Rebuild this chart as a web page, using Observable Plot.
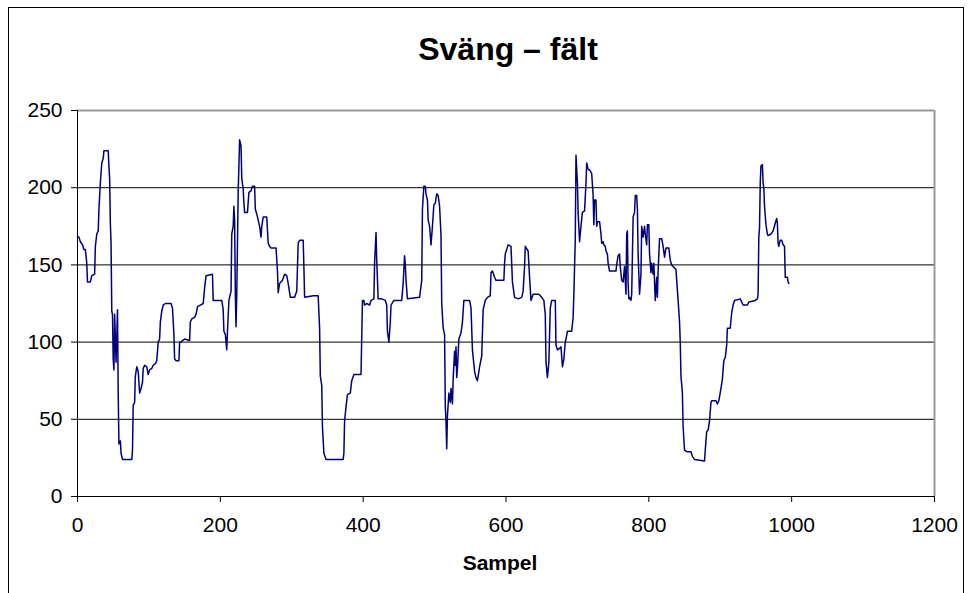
<!DOCTYPE html>
<html>
<head>
<meta charset="utf-8">
<script src="https://cdn.jsdelivr.net/npm/d3@7"></script>
<script src="https://cdn.jsdelivr.net/npm/@observablehq/plot@0.6"></script>
<style>
  body { margin: 0; background: #fff; overflow: hidden; font-family: "Liberation Sans", Arial, sans-serif; }
  #wrap { position: relative; width: 968px; height: 593px; overflow: hidden; background: #fff; }
  #frame { position: absolute; left: 8px; top: 7px; width: 956px; height: 640px; border: 1px solid #000; box-sizing: border-box; }
  #title { position: absolute; left: 508px; top: 33px; transform: translateX(-50%); white-space: nowrap;
           font-weight: bold; font-size: 32px; line-height: 32px; color: #000; }
  #plot { position: absolute; left: 0; top: 80px; }
  #xlabel { position: absolute; left: 500px; top: 552px; transform: translateX(-50%); white-space: nowrap;
            font-weight: bold; font-size: 21px; line-height: 21px; color: #000; }
</style>
</head>
<body>
<div id="wrap">
  <div id="frame"></div>
  <div id="title">Sväng – fält</div>
  <div id="plot"></div>
  <div id="xlabel">Sampel</div>
</div>
<script>
// Sample index of each traced breakpoint
const samples = [
  0,2,4,7,9,11,13,14,18,20,24,25,27,29,30,32,34,36,37,43,44,45,46,47,48,49,50,51,52,54,56,57,58,60,61,63,76,77,78,80,81,83,85,87,89,91,92,94,97,99,101,104,106,109,111,113,115,116,118,120,123,131,133,135,136,138,142,143,145,147,150,157,158,160,164,166,168,
  172,176,178,180,189,190,202,204,205,207,209,210,212,215,216,218,219,220,221,222,223,225,227,229,230,232,233,234,238,240,243,245,248,249,251,253,255,257,258,260,265,267,269,271,278,280,281,283,287,290,293,295,298,304,307,309,311,316,317,318,330,337,339,340,342,343,345,348,
  372,373,374,376,378,382,384,387,397,399,401,402,405,409,411,415,416,418,419,421,426,431,433,434,436,438,439,443,454,456,458,459,460,462,479,482,483,485,487,488,490,491,493,495,497,499,501,503,505,507,509,510,512,514,515,516,517,518,520,522,523,525,526,528,529,530,531,532,534,
  537,539,541,549,551,553,556,558,560,563,566,568,571,574,578,579,581,584,586,590,597,598,599,603,607,609,612,617,622,624,626,627,631,633,635,638,646,650,653,655,656,658,660,662,664,669,670,672,675,677,679,681,683,684,686,692,694,695,697,698,700,701,703,705,707,710,712,713,715,
  718,720,722,723,724,726,727,728,731,733,734,736,737,739,740,742,743,745,754,755,757,759,760,762,764,766,768,769,770,771,772,773,775,776,778,780,781,783,784,785,786,787,789,790,792,794,795,797,798,800,801,803,804,806,807,809,811,812,813,815,818,820,822,824,828,830,832,834,838,839,841,843,844,845,847,848,850,853,859,861,864,878,879,881,883,885,887,888,894,896,898,
  901,903,905,907,909,910,914,916,918,920,928,930,932,938,940,949,952,953,954,955,956,957,959,960,961,962,964,966,967,971,974,977,979,980,981,982,984,986,988,990,991,994,995,996
];
// Value at each breakpoint
const values = [
  168,168,165,163,160,160,151,139,139,143,144,162,170,172,186,203,216,219,224,224,214,206,177,164,120,118,89,82,118,87,121,67,34,36,28,24,24,30,59,61,78,84,81,67,70,74,83,85,84,79,82,83,85,86,88,100,102,113,120,124,125,125,122,105,89,88,88,100,100,101,102,101,113,115,116,118,123,
  124,125,135,143,144,127,127,121,107,105,95,107,127,133,170,175,188,179,131,110,131,197,231,227,206,199,190,184,184,197,198,201,201,186,183,179,175,168,175,181,181,164,162,161,161,146,132,138,140,144,143,138,129,129,133,164,166,166,149,129,130,130,109,78,72,45,28,24,
  24,28,49,58,66,67,75,79,79,127,127,124,125,124,127,128,151,171,153,128,128,127,124,107,100,113,124,127,127,138,156,150,140,128,129,140,186,201,201,196,192,179,175,163,175,189,190,196,195,188,169,125,109,105,59,48,31,52,67,61,70,60,76,94,85,97,77,83,102,
  106,113,127,127,122,95,81,77,75,84,91,121,127,129,130,145,146,142,140,140,140,151,157,163,162,139,129,128,129,133,149,162,159,142,127,131,131,129,127,118,87,77,87,122,127,127,98,95,96,97,84,89,100,102,107,107,116,131,166,221,203,184,165,175,184,185,203,216,212,
  211,209,195,176,192,192,175,178,178,170,164,165,163,162,159,157,151,146,146,150,156,157,149,140,139,149,131,170,172,138,128,129,127,131,181,184,195,195,186,157,144,131,144,175,168,175,170,163,176,176,157,145,151,144,151,127,142,129,146,167,167,162,155,161,161,153,150,149,147,140,127,113,100,78,67,45,30,29,29,26,24,23,30,42,43,49,61,62,62,60,62,
  70,76,88,90,98,109,109,119,124,127,128,126,124,124,126,127,128,131,168,174,203,214,215,203,200,188,176,170,169,170,172,177,180,177,164,162,166,166,163,162,142,142,139,138
];
const xTicks = [0, 200, 400, 600, 800, 1000, 1200];
const yTicks = [0, 50, 100, 150, 200, 250];
const gridLines = [50, 100, 150, 200];

const data = samples.map((s, i) => ({sample: s, value: values[i]}));

const chart = Plot.plot({
  width: 968,
  height: 513,
  marginLeft: 77,
  marginRight: 34,
  marginTop: 30,
  marginBottom: 97,
  style: {fontFamily: "'Liberation Sans', Arial, sans-serif", fontSize: "21px", color: "#000", background: "transparent", overflow: "visible"},
  x: {domain: [0, 1200], ticks: xTicks, tickFormat: d => String(d), tickSize: 6, tickPadding: 15, label: null},
  y: {domain: [0, 250], ticks: yTicks, tickFormat: d => String(d), tickSize: 6, tickPadding: 9, label: null},
  marks: [
    Plot.ruleY(gridLines, {stroke: "#000", strokeWidth: 1}),
    Plot.ruleY([250], {stroke: "#999", strokeWidth: 2}),
    Plot.ruleX([1200], {stroke: "#999", strokeWidth: 2}),
    Plot.line(data, {x: "sample", y: "value", stroke: "#000080", strokeWidth: 1.5}),
    Plot.ruleX([0], {stroke: "#000", strokeWidth: 1}),
    Plot.ruleY([0], {stroke: "#000", strokeWidth: 1})
  ]
});
document.getElementById("plot").appendChild(chart);
</script>
</body>
</html>
